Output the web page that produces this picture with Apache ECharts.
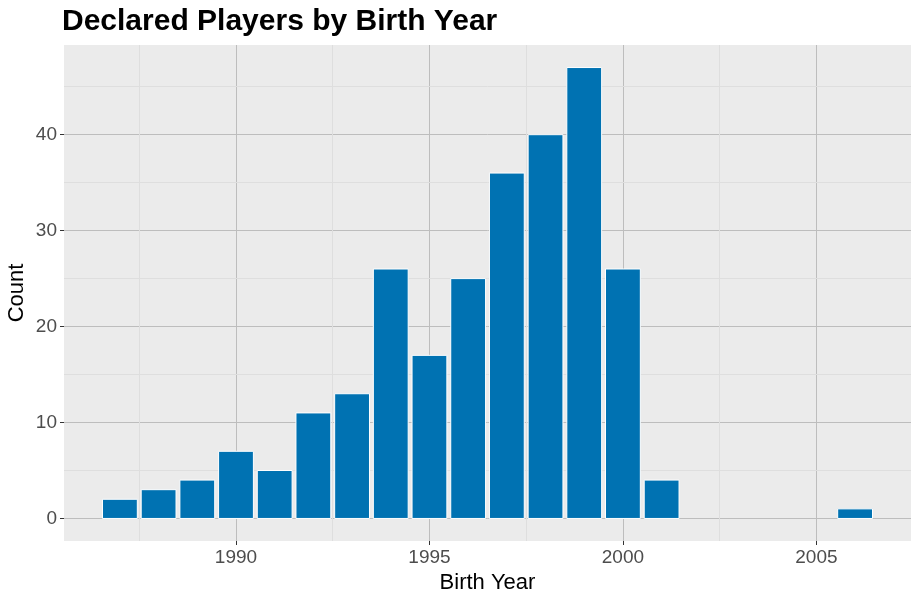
<!DOCTYPE html>
<html><head><meta charset="utf-8">
<script src="https://cdn.jsdelivr.net/npm/echarts@6/dist/echarts.min.js"></script>
<style>html,body{margin:0;padding:0;background:#fff}#c{width:919px;height:601px}</style>
</head><body><div id="c"></div>
<script>
const years = [1987,1988,1989,1990,1991,1992,1993,1994,1995,1996,1997,1998,1999,2000,2001,2006];
const counts = [2,3,4,7,5,11,13,26,17,25,36,40,47,26,4,1];
const xMajor = [1990,1995,2000,2005];
const xMinor = [1987.5,1992.5,1997.5,2002.5];
const yMajor = [0,10,20,30,40];
const yMinor = [5,15,25,35,45];

const chart = echarts.init(document.getElementById('c'), null, {renderer:'canvas'});
const font = 'Liberation Sans, Arial, sans-serif';
const minorLines = [];
xMinor.forEach(v => minorLines.push({xAxis: v}));
yMinor.forEach(v => minorLines.push({yAxis: v}));

chart.setOption({
  animation:false,
  backgroundColor:'#ffffff',
  title:{text:'Declared Players by Birth Year', left:57, top:2,
    textStyle:{fontFamily:font, fontWeight:'bold', fontSize:30, color:'#000'}},
  grid:{left:64, right:8, top:45, bottom:60, show:true, backgroundColor:'#ebebeb', borderWidth:0,
    containLabel:false, outerBoundsMode:'none'},
  xAxis:{type:'value', min:1985.555, max:2007.445,
    name:'Birth Year', nameLocation:'middle', nameGap:31,
    nameTextStyle:{fontFamily:font, fontSize:22, color:'#000'},
    axisLine:{show:false, onZero:false},
    axisTick:{show:true, length:4, customValues:xMajor, lineStyle:{color:'#333', width:1}},
    axisLabel:{customValues:xMajor, fontFamily:font, fontSize:19, color:'#4d4d4d', margin:7,
      formatter:function(v){return String(Math.round(v));}},
    splitLine:{show:true, lineStyle:{color:'#bdbdbd', width:1}}
  },
  yAxis:{type:'value', min:-2.35, max:49.35,
    name:'Count', nameLocation:'middle', nameGap:36, nameRotate:90, nameMoveOverlap:false,
    nameTextStyle:{fontFamily:font, fontSize:22, color:'#000'},
    axisLine:{show:false, onZero:false},
    axisTick:{show:true, length:4, customValues:yMajor, lineStyle:{color:'#333', width:1}},
    axisLabel:{customValues:yMajor, fontFamily:font, fontSize:19, color:'#4d4d4d', margin:7,
      formatter:function(v){return String(Math.round(v));}},
    splitLine:{show:true, lineStyle:{color:'#bdbdbd', width:1}}
  },
  series:[
    {type:'line', data:[], z:1, silent:true,
     markLine:{silent:true, symbol:'none', label:{show:false},
       lineStyle:{color:'#dedede', width:1, type:'solid'}, data:minorLines}},
    {type:'custom', z:5,
     data: years.map((y,i)=>[y, counts[i]]),
     renderItem:function(params, api){
       const x = api.value(0), v = api.value(1);
       const p1 = api.coord([x-0.45, v]);
       const p2 = api.coord([x+0.45, 0]);
       return {type:'rect', shape:{x:p1[0], y:p1[1], width:p2[0]-p1[0], height:p2[1]-p1[1]},
         style:{fill:'#0072b2', stroke:'#ffffff', lineWidth:1}};
     }
    }
  ]
});
</script></body></html>
